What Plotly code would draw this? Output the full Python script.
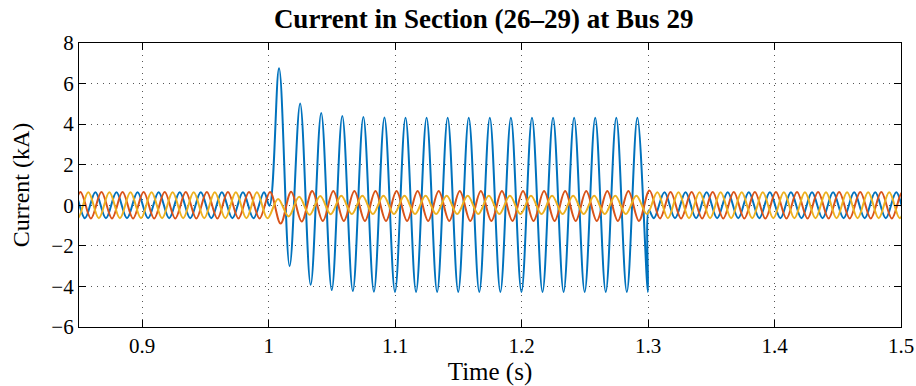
import plotly.graph_objects as go

# ---------------- data ----------------
COLORS = ["#0072BD", "#D95319", "#EDB120"]     # phase A, B, C
HALF_PERIOD = 1 / 120                          # 60 Hz waveform -> extrema every 1/120 s
T_ON, T_OFF = 1.0, 1.3                         # fault inception / clearing (s)

AMP_NORMAL = [0.64, 0.65, 0.64]                # pre/post-fault peak current (kA)
PEAK_REF = [0.9963, 1.0011, 0.9907]            # a normal-operation peak time for each phase (s)

# Phase A (blue) during the fault: first peak time and successive peaks / troughs (kA)
A_FAULT_FIRST = 1.0082
A_FAULT_PEAKS = [6.75, 5.02, 4.55, 4.40, 4.35, 4.33, 4.32, 4.32, 4.32,
                 4.32, 4.32, 4.32, 4.32, 4.32, 4.32, 4.32, 4.32, 4.32]
A_FAULT_TROUGHS = [-3.00, -3.92, -4.18, -4.23, -4.26, -4.27, -4.27, -4.27, -4.27,
                   -4.27, -4.27, -4.27, -4.27, -4.27, -4.27, -4.27, -4.27, -4.27]
A_ONSET = (1.0006, -0.02)                      # point where the fault current starts
A_CLEAR = (1.3006, -0.25)                      # point right after clearing

# Phase B (orange) during the fault, starting with the peak at 1.0011 s
B_FAULT_PEAKS = [0.66, 0.67, 0.70, 0.70, 0.70, 0.70, 0.70, 0.70, 0.70, 0.70,
                 0.70, 0.70, 0.70, 0.70, 0.70, 0.70, 0.70, 0.70, 0.73]
B_FAULT_TROUGHS = [-0.90, -0.80, -0.78, -0.77, -0.77, -0.77, -0.77, -0.77, -0.77,
                   -0.77, -0.77, -0.77, -0.77, -0.77, -0.77, -0.77, -0.77, -0.77]

# Phase C (yellow) during the fault, starting with the peak at 1.0074 s
C_FAULT_FIRST = 1.0074
C_FAULT_PEAKS = [0.31, 0.42, 0.46, 0.47, 0.47, 0.47, 0.47, 0.47, 0.47,
                 0.47, 0.47, 0.47, 0.47, 0.47, 0.47, 0.47, 0.47, 0.47]
C_FAULT_TROUGHS = [-0.55, -0.47, -0.44, -0.43, -0.43, -0.43, -0.43, -0.43, -0.43,
                   -0.43, -0.43, -0.43, -0.43, -0.43, -0.43, -0.43, -0.43, -0.43]

X_TICKS = [0.9, 1.0, 1.1, 1.2, 1.3, 1.4, 1.5]
X_TICK_TEXT = ["0.9", "1", "1.1", "1.2", "1.3", "1.4", "1.5"]
Y_TICKS = [-6, -4, -2, 0, 2, 4, 6, 8]
Y_TICK_TEXT = ["\u22126", "\u22124", "\u22122", "0", "2", "4", "6", "8"]
X_RANGE = [0.85, 1.5]
Y_RANGE = [-6, 8]


# ---------------- build the extrema sequences ----------------
def normal_extrema(ref, amp, t_from, t_to):
    ts, vs = [], []
    k0 = int((t_from - ref) / HALF_PERIOD) - 1
    k1 = int((t_to - ref) / HALF_PERIOD) + 1
    for k in range(k0, k1 + 1):
        t = ref + k * HALF_PERIOD
        if t_from <= t <= t_to:
            ts.append(t)
            vs.append(amp if k % 2 == 0 else -amp)
    return ts, vs


def fault_extrema(first, peaks, troughs):
    ts, vs = [], []
    n = max(len(peaks), len(troughs))
    for i in range(n):
        if i < len(peaks):
            ts.append(first + 2 * i * HALF_PERIOD)
            vs.append(peaks[i])
        if i < len(troughs):
            ts.append(first + (2 * i + 1) * HALF_PERIOD)
            vs.append(troughs[i])
    return ts, vs


series = []
# Phase A
t1, v1 = normal_extrema(PEAK_REF[0], AMP_NORMAL[0], 0.83, T_ON)
t2, v2 = fault_extrema(A_FAULT_FIRST, A_FAULT_PEAKS, A_FAULT_TROUGHS)
t3, v3 = normal_extrema(PEAK_REF[0], AMP_NORMAL[0], T_OFF + 0.003, 1.52)
series.append((t1 + [A_ONSET[0]] + t2 + [A_CLEAR[0]] + t3,
               v1 + [A_ONSET[1]] + v2 + [A_CLEAR[1]] + v3))
# Phase B
t1, v1 = normal_extrema(PEAK_REF[1], AMP_NORMAL[1], 0.83, T_ON)
t2, v2 = fault_extrema(PEAK_REF[1], B_FAULT_PEAKS, B_FAULT_TROUGHS)
t3, v3 = normal_extrema(PEAK_REF[1], AMP_NORMAL[1], t2[-1] + 0.001, 1.52)
series.append((t1 + t2 + t3, v1 + v2 + v3))
# Phase C
t1, v1 = normal_extrema(PEAK_REF[2], AMP_NORMAL[2], 0.83, T_ON)
t2, v2 = fault_extrema(C_FAULT_FIRST, C_FAULT_PEAKS, C_FAULT_TROUGHS)
t3, v3 = normal_extrema(PEAK_REF[2], AMP_NORMAL[2], t2[-1] + 0.001, 1.52)
series.append((t1 + t2 + t3, v1 + v2 + v3))

# ---------------- figure ----------------
fig = go.Figure()
for (ts, vs), col in zip(series, COLORS):
    fig.add_trace(go.Scatter(
        x=ts, y=vs, mode="lines",
        line=dict(color=col, width=2, shape="spline", smoothing=1.0),
        showlegend=False, hoverinfo="skip"))

FONT = "Liberation Serif"
TICKFONT = dict(family=FONT, size=21, color="black")
axis_common = dict(
    showline=True, linecolor="black", linewidth=1.3, mirror="ticks",
    ticks="inside", ticklen=7, tickwidth=1, tickcolor="black",
    showgrid=True, gridcolor="#555555", gridwidth=1, griddash="1px,5px",
    zeroline=False, automargin=False,
)

fig.update_layout(
    width=916, height=386,
    margin=dict(l=79, r=15, t=43, b=59),
    paper_bgcolor="white", plot_bgcolor="white",
    font=dict(family=FONT, color="black", size=21),
    title=dict(text="Current in Section (26\u201329) at Bus 29",
               font=dict(family=FONT, size=27, color="black", weight="bold"),
               x=0.528, xanchor="center", y=0.953, yanchor="middle"),
    xaxis=dict(range=X_RANGE, tickvals=X_TICKS, ticktext=X_TICK_TEXT,
               tickfont=TICKFONT,
               title=dict(text="Time (s)", font=dict(family=FONT, size=25), standoff=5),
               **axis_common),
    yaxis=dict(range=Y_RANGE, tickvals=Y_TICKS, ticktext=Y_TICK_TEXT,
               tickfont=TICKFONT,
               title=dict(text="Current (kA)", font=dict(family=FONT, size=24), standoff=14),
               **axis_common),
)

fig.write_html("out.html")
